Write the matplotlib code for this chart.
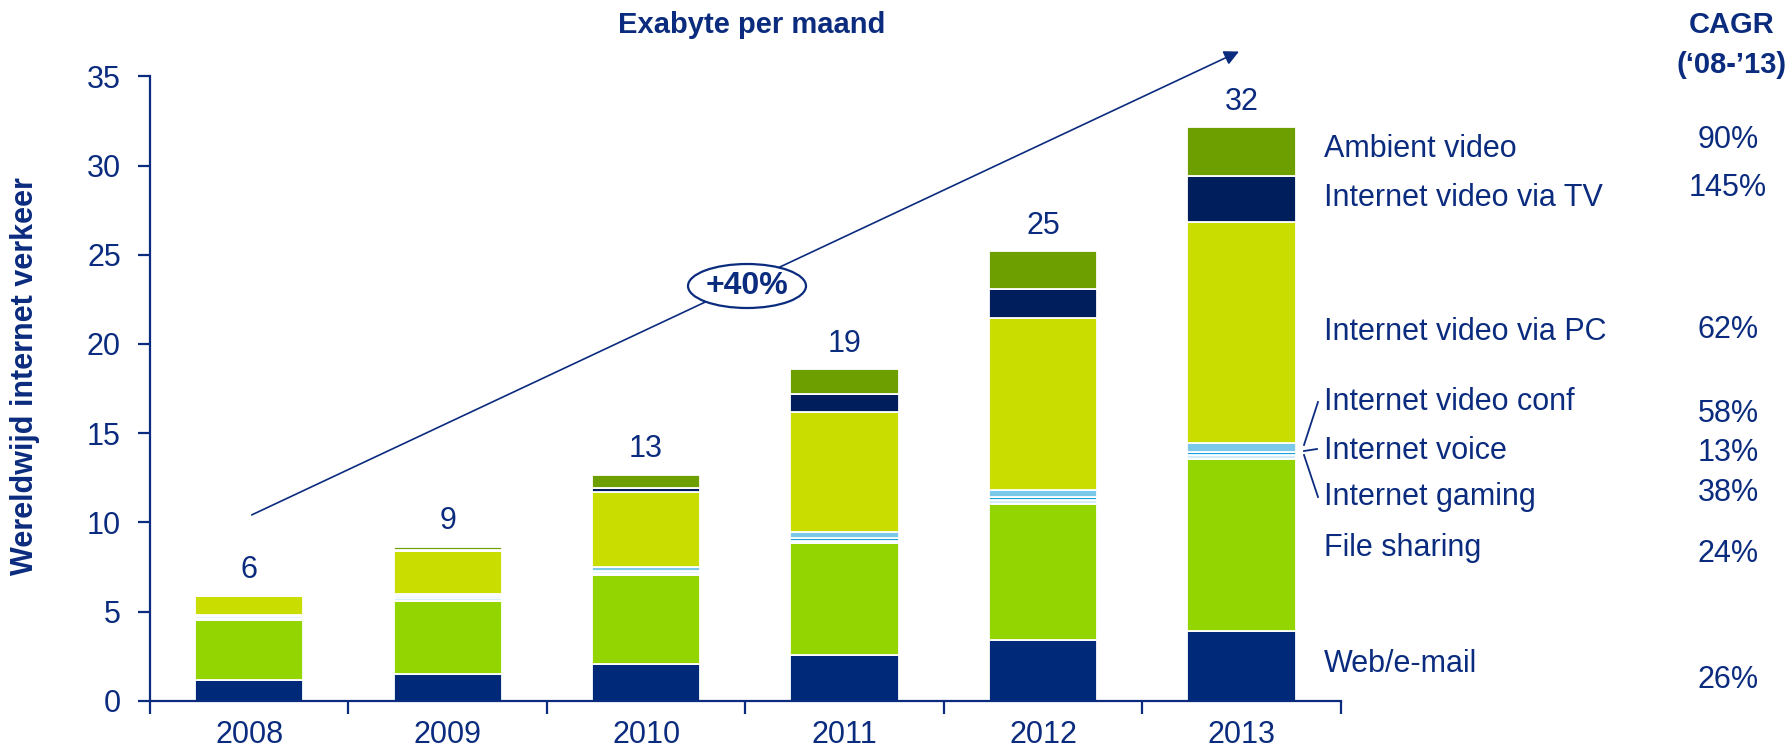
import matplotlib
matplotlib.use("Agg")
import matplotlib.pyplot as plt
from matplotlib.patches import Ellipse
from matplotlib.lines import Line2D
import numpy as np

plt.rcParams["font.family"] = ["Liberation Sans", "DejaVu Sans"]

NAVY = "#0B2C7E"

# data (exabyte per month)
years = ["2008", "2009", "2010", "2011", "2012", "2013"]
web_email = [1.16, 1.48, 2.03, 2.55, 3.38, 3.89]
file_sharing = [3.37, 4.13, 5.00, 6.27, 7.65, 9.68]
gaming = [0.10, 0.12, 0.12, 0.15, 0.20, 0.20]
voice = [0.12, 0.12, 0.12, 0.15, 0.20, 0.20]
video_conf = [0.05, 0.12, 0.20, 0.34, 0.36, 0.50]
video_pc = [1.05, 2.40, 4.23, 6.71, 9.64, 12.39]
video_tv = [0.00, 0.10, 0.25, 1.01, 1.67, 2.58]
ambient = [0.00, 0.15, 0.70, 1.39, 2.09, 2.70]
total_labels = ["6", "9", "13", "19", "25", "32"]

series = [
    ("Web/e-mail", web_email, "#00297A", "26%"),
    ("File sharing", file_sharing, "#93D500", "24%"),
    ("Internet gaming", gaming, "#D3ECF7", "38%"),
    ("Internet voice", voice, "#1AA0DC", "13%"),
    ("Internet video conf", video_conf, "#7CC8E8", "58%"),
    ("Internet video via PC", video_pc, "#C9DD00", "62%"),
    ("Internet video via TV", video_tv, "#001E5B", "145%"),
    ("Ambient video", ambient, "#6E9F00", "90%"),
]

W, H = 1787, 755


def fx(x):
    return x / W


def fy(y):
    return 1 - y / H


fig = plt.figure(figsize=(W / 100, H / 100), dpi=100)
ax = fig.add_axes([fx(150), fy(700.7), fx(1340.7) - fx(150), fy(76.4) - fy(700.7)])

x = np.arange(len(years))
bottom = np.zeros(len(years))
for name, vals, col, cagr in series:
    ax.bar(x, vals, bottom=bottom, width=0.545, color=col, edgecolor="white", linewidth=1.3, zorder=2)
    bottom += np.array(vals)

# totals above the bars
for xi, tot, lab in zip(x, bottom, total_labels):
    ax.text(xi, tot + 1.45, lab, ha="center", va="center", fontsize=22, color=NAVY)

ax.set_xlim(-0.5, 5.5)
ax.set_ylim(0, 35)
ax.set_yticks(range(0, 36, 5))
ax.set_xticks(x)
ax.set_xticklabels(years)
ax.set_xticks(np.arange(-0.5, 6.0, 1.0), minor=True)
ax.tick_params(axis="x", which="major", length=0, pad=14, labelsize=22, labelcolor=NAVY)
ax.tick_params(axis="x", which="minor", length=9, width=1.6, color=NAVY, direction="out")
ax.tick_params(axis="y", length=9, width=1.6, color=NAVY, pad=12, labelsize=22, labelcolor=NAVY)
for s in ["top", "right"]:
    ax.spines[s].set_visible(False)
for s in ["left", "bottom"]:
    ax.spines[s].set_color(NAVY)
    ax.spines[s].set_linewidth(1.6)

fig.text(fx(25), fy(376), "Wereldwijd internet verkeer", rotation=90, ha="center", va="center",
         fontsize=22, fontweight="bold", color=NAVY)

# growth arrow + label
ax.annotate("", xy=(5.0, 36.46), xytext=(0.0, 10.35),
            arrowprops=dict(arrowstyle="-|>", color=NAVY, lw=1.2, mutation_scale=22),
            annotation_clip=False, zorder=3)
ell = Ellipse((fx(747), fy(286)), 118 / W, 44 / H, transform=fig.transFigure,
              facecolor="white", edgecolor=NAVY, linewidth=1.6, zorder=4)
fig.add_artist(ell)
fig.text(fx(747), fy(286), "+40%", ha="center", va="center", fontsize=23,
         fontweight="bold", color=NAVY, zorder=5)

# header texts
fig.text(fx(752), fy(25), "Exabyte per maand", ha="center", va="center", fontsize=21,
         fontweight="bold", color=NAVY)
fig.text(fx(1732), fy(25), "CAGR", ha="center", va="center", fontsize=21, fontweight="bold", color=NAVY)
fig.text(fx(1732), fy(65), "(\u201808-\u201913)", ha="center", va="center", fontsize=21,
         fontweight="bold", color=NAVY)

# right-hand labels and CAGR values
label_y = {"Ambient video": 149, "Internet video via TV": 198, "Internet video via PC": 332,
           "Internet video conf": 402, "Internet voice": 451, "Internet gaming": 497,
           "File sharing": 548, "Web/e-mail": 664}
cagr_y = {"Ambient video": 140, "Internet video via TV": 188, "Internet video via PC": 330,
          "Internet video conf": 414, "Internet voice": 453, "Internet gaming": 493,
          "File sharing": 554, "Web/e-mail": 680}
for name, vals, col, cagr in series:
    fig.text(fx(1324), fy(label_y[name]), name, ha="left", va="center", fontsize=22, color=NAVY)
    fig.text(fx(1728), fy(cagr_y[name]), cagr, ha="center", va="center", fontsize=22, color=NAVY)

# leader lines for the thin layers
for (x0, y0), (x1, y1) in [((1318, 402), (1304, 445)), ((1304, 451), (1317, 449)),
                           ((1304, 455), (1318, 497))]:
    fig.add_artist(Line2D([fx(x0), fx(x1)], [fy(y0), fy(y1)], transform=fig.transFigure,
                          color=NAVY, linewidth=1.3))

fig.savefig("out.png", dpi=100)
